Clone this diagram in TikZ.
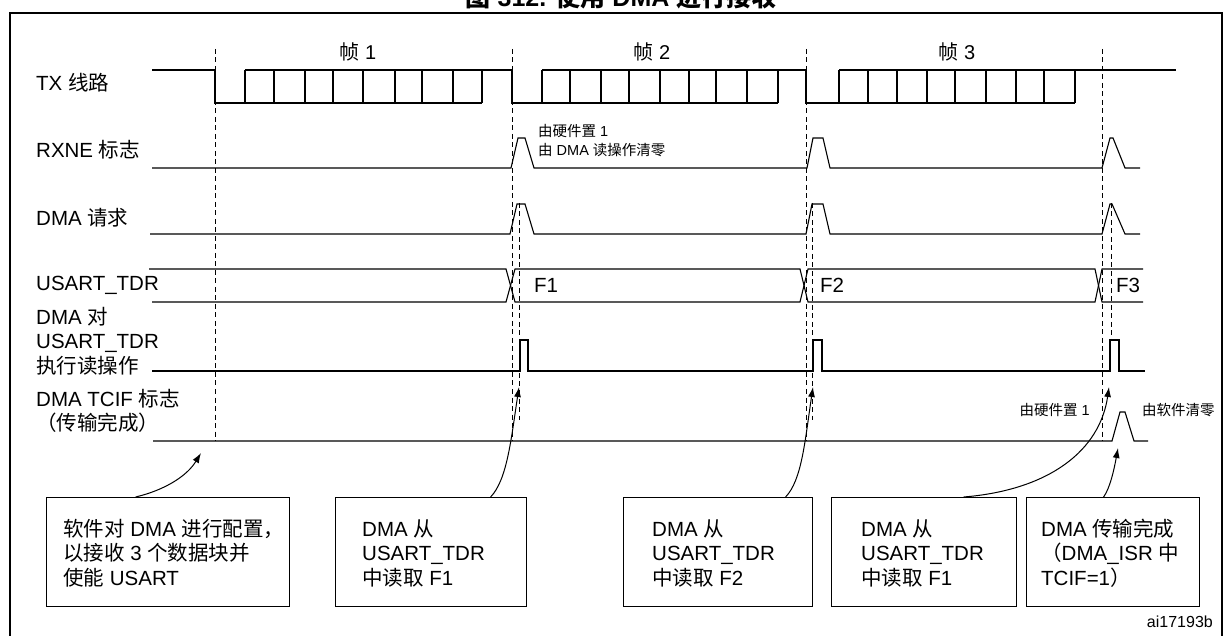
\documentclass[tikz,border=0pt]{standalone}
\usepackage{fontspec}
\setmainfont{Liberation Sans}
\newfontfamily\cjkfont{Noto Sans CJK SC}
\newcommand{\zh}[1]{{\cjkfont #1}}
\usetikzlibrary{arrows.meta}
\begin{document}
\begin{tikzpicture}[x=1pt,y=-1pt,line join=miter,
  sig/.style={line width=1.1pt},
  vdash/.style={line width=1pt,dash pattern=on 5pt off 3.5pt},
  lbl/.style={anchor=west,inner sep=0pt,font=\fontsize{20.5}{24.5}\selectfont,align=left},
  small/.style={inner sep=0pt,font=\fontsize{14.5}{18}\selectfont},
  frm/.style={inner sep=0pt,font=\fontsize{20}{24}\selectfont},
  boxn/.style={draw,line width=1.2pt,anchor=north west,inner sep=0pt,minimum height=109pt},
  arr/.style={line width=1pt,-{Latex[length=10pt,width=7pt]}}]
\useasboundingbox (0,0) rectangle (1224,636);
% frame and title
\draw[line width=2pt] (10,660) -- (10,13) -- (1222,13) -- (1222,660);
\node[anchor=base,inner sep=0pt,font=\fontsize{25}{30}\selectfont\bfseries] (title) at (621,7) {\zh{图} 312. \zh{使用} DMA \zh{进行接收}};
% frame labels
\node[frm] (f1) at (358,52) {\zh{帧} 1};
\node[frm] (f2) at (652,52) {\zh{帧} 2};
\node[frm] (f3) at (957,52) {\zh{帧} 3};
% row labels
\node[lbl] (lt) at (36,83) {TX \zh{线路}};
\node[lbl] (lr) at (36,150) {RXNE \zh{标志}};
\node[lbl] (ld) at (36,218) {DMA \zh{请求}};
\node[lbl] (lu) at (36,285) {USART\_TDR};
\node[lbl] (lo) at (36,341) {DMA \zh{对}\\USART\_TDR\\\zh{执行读操作}};
\node[lbl] (lc) at (36,411) {DMA TCIF \zh{标志}\\\zh{（传输完成）}};
% dashed markers
\foreach \x in {215,512,806,1102} \draw[vdash] (\x,49) -- (\x,441);
\draw[vdash] (519,203) -- (519,420);
\draw[vdash] (812,203) -- (812,420);
\draw[vdash] (1111,203) -- (1111,340);
% TX line
\draw[sig] (152,70) -- (215,70) -- (215,103) -- (482,103);
\draw[sig] (245,70) -- (512,70) -- (512,103) -- (778,103);
\draw[sig] (542,70) -- (806,70) -- (806,103) -- (1075,103);
\draw[sig] (839,70) -- (1176,70);
\foreach \x in {245,274,305,333,363,395,422,453,482,
                542,570,601,629,660,689,716,747,778,
                839,868,897,927,955,986,1016,1044,1075}
  \draw[sig] (\x,70) -- (\x,103);
% RXNE
\draw[sig] (152,168) -- (511,168) -- (518,138) -- (525,138) -- (534,168) -- (807,168) -- (813,138) -- (823,138) -- (830,168) -- (1102,168) -- (1110,138) -- (1113,138) -- (1125,168) -- (1140,168);
\node[small,anchor=west] (n1) at (538,131) {\zh{由硬件置} 1};
\node[small,anchor=west] (n2) at (538,150) {\zh{由} DMA \zh{读操作清零}};
% DMA request
\draw[sig] (150,234) -- (510,234) -- (517,204) -- (525,204) -- (534,234) -- (806,234) -- (812,204) -- (823,204) -- (830,234) -- (1102,234) -- (1110,204) -- (1112,204) -- (1125,234) -- (1140,234);
% USART_TDR bus
\draw[sig] (149,269) -- (506,269) -- (515,302) -- (800,302) -- (808,269) -- (1095,269) -- (1102,302) -- (1143,302);
\draw[sig] (152,302) -- (506,302) -- (515,269) -- (800,269) -- (808,302) -- (1095,302) -- (1102,269) -- (1143,269);
\node[lbl,anchor=center] (F1) at (546,285) {F1};
\node[lbl,anchor=center] (F2) at (832,285) {F2};
\node[lbl,anchor=center] (F3) at (1128,285) {F3};
% DMA read op
\draw[sig] (152,371) -- (520,371) -- (520,340) -- (528,340) -- (528,371) -- (813,371) -- (813,340) -- (822,340) -- (822,371) -- (1110,371) -- (1110,340) -- (1119,340) -- (1119,371) -- (1145,371);
\draw[line width=2pt] (813,371) -- (813,340) -- (821,340);
\draw[line width=2pt] (1110,371) -- (1110,340) -- (1118,340);
% TCIF
\draw[sig] (153,441) -- (1112,441) -- (1120,412) -- (1125,412) -- (1134,441) -- (1148,441);
\node[small,anchor=east] (n3) at (1090,410) {\zh{由硬件置} 1};
\node[small,anchor=west] (n4) at (1142,410) {\zh{由软件清零}};
% boxes
\node[boxn,minimum width=243pt] (b1) at (46,497) {};
\node[boxn,minimum width=191pt] (b2) at (335,497) {};
\node[boxn,minimum width=189pt] (b3) at (623,497) {};
\node[boxn,minimum width=185pt] (b4) at (831,497) {};
\node[boxn,minimum width=173pt] (b5) at (1026,497) {};
\node[lbl] (t1) at (63,553) {\zh{软件对} DMA \zh{进行配置，}\\\zh{以接收} 3 \zh{个数据块并}\\\zh{使能} USART};
\node[lbl] (t2) at (362,553) {DMA \zh{从}\\USART\_TDR\\\zh{中读取} F1};
\node[lbl] (t3) at (652,553) {DMA \zh{从}\\USART\_TDR\\\zh{中读取} F2};
\node[lbl] (t4) at (861,553) {DMA \zh{从}\\USART\_TDR\\\zh{中读取} F1};
\node[lbl] (t5) at (1041,553) {DMA \zh{传输完成}\\\zh{（}DMA\_ISR \zh{中}\\TCIF=1\zh{）}};
\node[inner sep=0pt,anchor=east,font=\fontsize{16}{19}\selectfont] (id) at (1213,622) {ai17193b};
% arrows
\coordinate (p1) at (201,453);
\coordinate (p2) at (519,387);
\coordinate (p3) at (813,387);
\coordinate (p4) at (1109,387);
\coordinate (p5) at (1118,448);
\draw[arr] ([xshift=-32.5pt]b1.north) .. controls (165,490) and (187,476) .. (p1);
\draw[arr] ([xshift=59.5pt]b2.north) .. controls (507,480) and (511,440) .. (p2);
\draw[arr] ([xshift=67.5pt]b3.north) .. controls (802,480) and (805,440) .. (p3);
\draw[arr] ([xshift=39.5pt]b4.north) .. controls (1050,490) and (1100,450) .. (p4);
\draw[arr] ([xshift=-9.5pt]b5.north) .. controls (1110,488) and (1114,470) .. (p5);
\end{tikzpicture}
\end{document}
